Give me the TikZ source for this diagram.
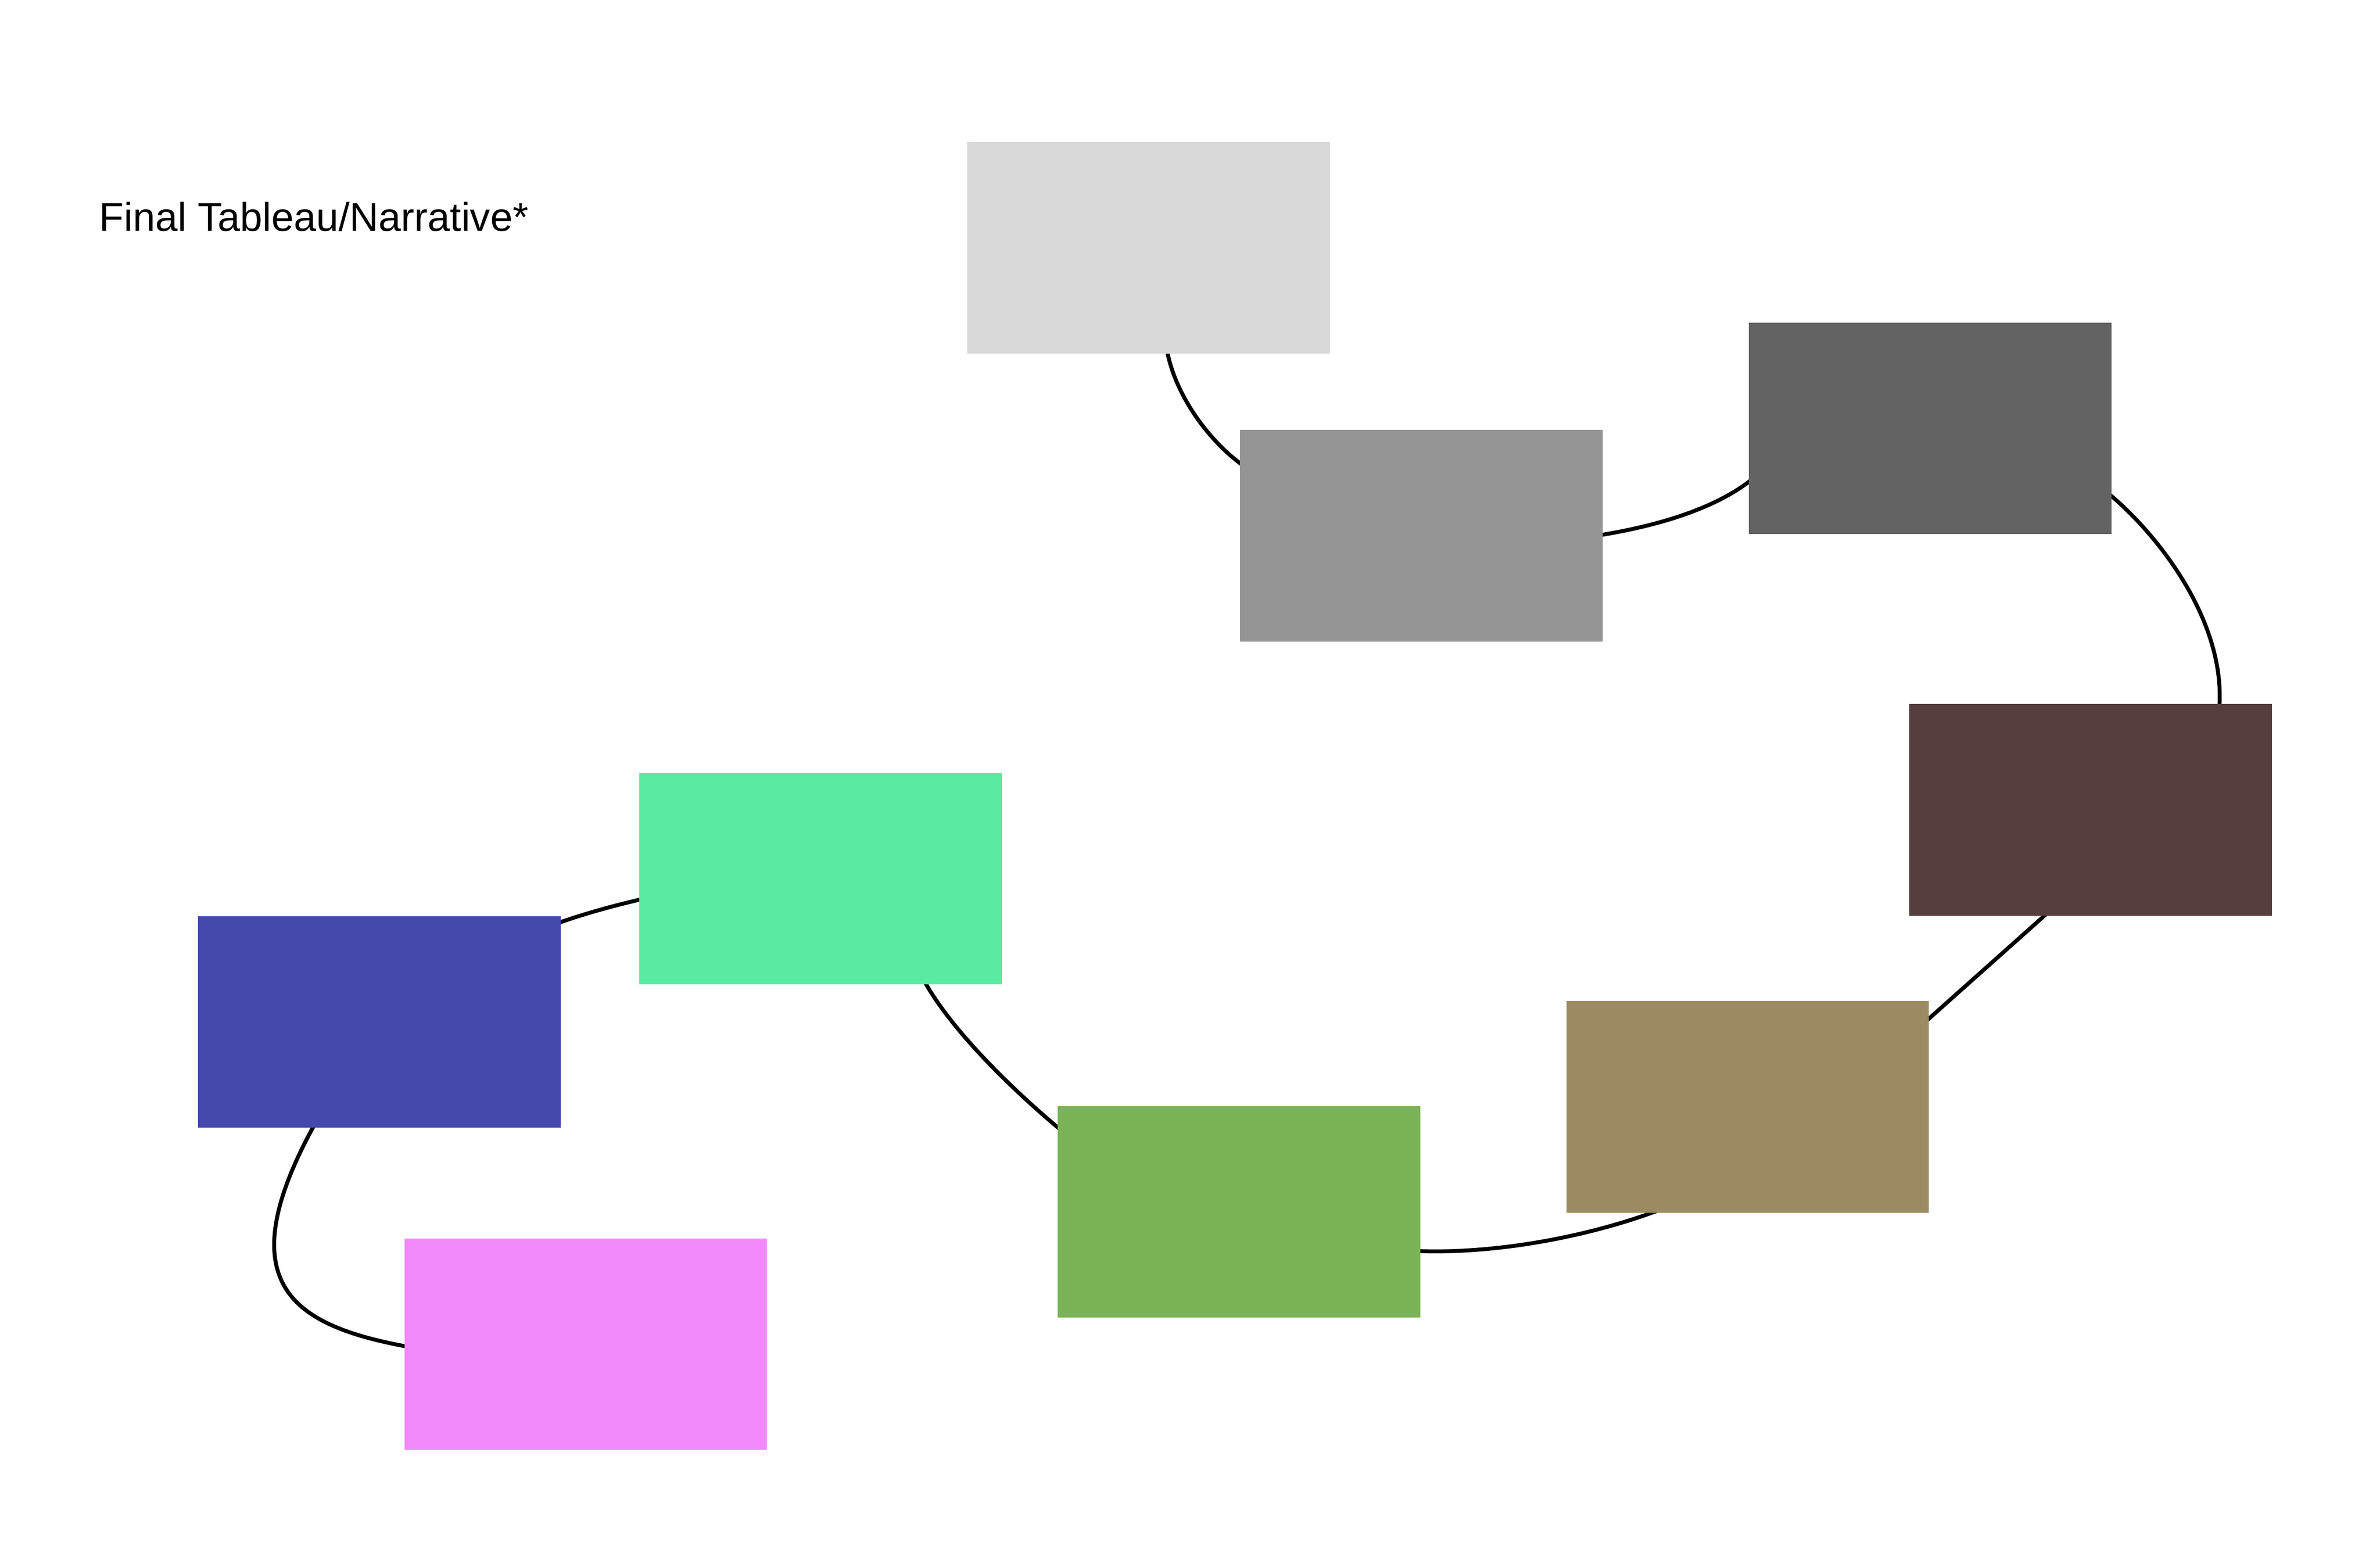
\documentclass[tikz,border=0pt]{standalone}
\usepackage{fontspec}
\setmainfont{Liberation Sans}
\usetikzlibrary{calc}
\definecolor{cLG}{HTML}{D9D9D9}
\definecolor{cMG}{HTML}{949494}
\definecolor{cDG}{HTML}{636363}
\definecolor{cBR}{HTML}{573E3E}
\definecolor{cTAN}{HTML}{9D8A63}
\definecolor{cGR}{HTML}{7AB457}
\definecolor{cMI}{HTML}{5AEBA0}
\definecolor{cBL}{HTML}{4449AA}
\definecolor{cPK}{HTML}{F089F9}
\pgfdeclarelayer{paper}
\pgfdeclarelayer{links}
\pgfsetlayers{paper,links,main}
\begin{document}
\begin{tikzpicture}[x=1pt,y=-1pt,
  card/.style={draw=none,inner sep=0pt,outer sep=0pt,minimum width=240pt,minimum height=140pt,anchor=north west},
  link/.style={draw=black,line width=2.6pt}]
\begin{pgfonlayer}{paper}
\fill[white] (0,0) rectangle (1575,1023);
\end{pgfonlayer}
\path[use as bounding box] (0,0) rectangle (1575,1023);

\node[anchor=base west,inner sep=0pt,font=\fontsize{26.6}{32}\selectfont] (title) at (65.6,153) {Final Tableau/Narrative*};

\node[card,fill=cLG] (lg) at (640,94) {};
\node[card,fill=cMG] (mg) at (820.5,284.5) {};
\node[card,fill=cDG] (dg) at (1157.4,213.5) {};
\node[card,fill=cBR] (br) at (1263.5,466) {};
\node[card,fill=cTAN] (tan) at (1036.5,662.5) {};
\node[card,fill=cGR] (gr) at (700,732) {};
\node[card,fill=cMI] (mi) at (423,511.5) {};
\node[card,fill=cBL] (bl) at (131.1,606.3) {};
\node[card,fill=cPK] (pk) at (267.6,819.6) {};

\begin{pgfonlayer}{links}
\draw[link] ($(lg.south west)+(132.3,-2)$) .. controls +(6,32) and +(-20,-14) .. ($(mg.north west)+(2,23.4)$);
\draw[link] ($(mg.north east)+(-2,69.7)$) .. controls +(37,-6) and +(-25,20) .. ($(dg.north west)+(2,103.7)$);
\draw[link] ($(dg.north east)+(-2,113.2)$) .. controls +(32,26.5) and +(4,-58) .. ($(br.north west)+(205.2,2)$);
\draw[link] ($(br.south west)+(91.2,-1.6)$) -- ($(tan.north east)+(-2,13.4)$);
\draw[link] ($(tan.south west)+(59.6,-1)$) .. controls +(-46,17) and +(52,2) .. ($(gr.north east)+(-2,95.9)$);
\draw[link] ($(mi.south west)+(188.8,-2)$) .. controls +(19,34) and +(-30,-25) .. ($(gr.north west)+(2,15.8)$);
\draw[link] ($(mi.north west)+(2,83.5)$) .. controls +(-19,4.3) and +(17,-6) .. ($(bl.north east)+(-2,4.6)$);
\draw[link] ($(bl.south west)+(77,-2)$) .. controls +(-59.3,107.7) and +(-72.8,-13.6) .. ($(pk.north west)+(2,71.6)$);
\end{pgfonlayer}
\end{tikzpicture}
\end{document}
